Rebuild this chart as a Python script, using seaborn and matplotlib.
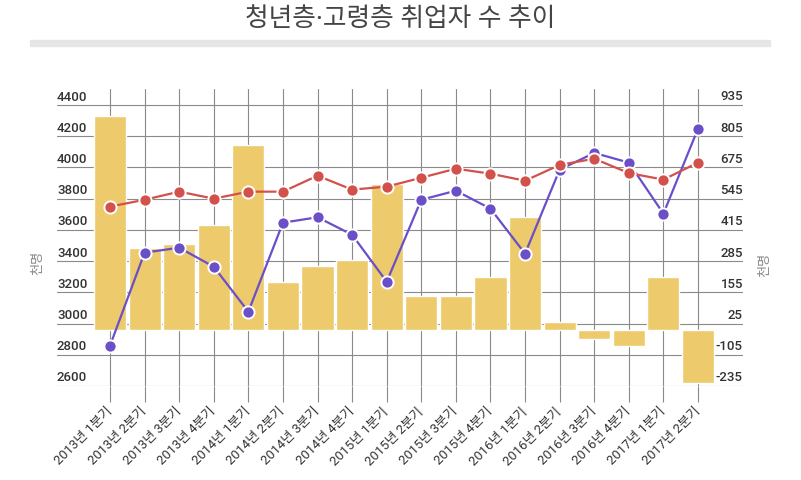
import numpy as np
import pandas as pd
import matplotlib
matplotlib.use("Agg")
import matplotlib.pyplot as plt
import matplotlib.transforms as mtransforms
from matplotlib.patches import Rectangle
import seaborn as sns

# ---------------- data ----------------
quarters = ["2013년 1분기", "2013년 2분기", "2013년 3분기", "2013년 4분기",
            "2014년 1분기", "2014년 2분기", "2014년 3분기", "2014년 4분기",
            "2015년 1분기", "2015년 2분기", "2015년 3분기", "2015년 4분기",
            "2016년 1분기", "2016년 2분기", "2016년 3분기", "2016년 4분기",
            "2017년 1분기", "2017년 2분기"]
bar_values = [890, 339, 356, 437, 770, 199, 266, 290, 605, 141, 141, 219,
              470, 31, -38, -67, 219, -221]
red_values = [3749, 3793, 3845, 3800, 3845, 3845, 3947, 3858, 3877, 3934,
              3992, 3960, 3915, 4016, 4056, 3964, 3922, 4031]
purple_values = [2858, 3454, 3486, 3364, 3076, 3646, 3681, 3569, 3268, 3793,
                 3851, 3736, 3448, 3986, 4093, 4031, 3704, 4248]
left_ticks = [2600, 2800, 3000, 3200, 3400, 3600, 3800, 4000, 4200, 4400]
right_ticks = [-235, -105, 25, 155, 285, 415, 545, 675, 805, 935]
title = "청년층·고령층 취업자 수 추이"
unit_label = "천명"

df = pd.DataFrame({"quarter": quarters, "bar": bar_values,
                   "red": red_values, "purple": purple_values})
df["pos"] = np.arange(len(df))

# ---------------- style ----------------
sns.set_theme(style="white")
KR = ["Noto Sans CJK KR", "DejaVu Sans"]
plt.rcParams["font.family"] = KR
MIX = ["Roboto", "Noto Sans CJK KR", "DejaVu Sans"]
TITLE_F = ["Noto Sans", "Noto Sans CJK KR", "DejaVu Sans"]

BAR_C = "#EDCA6B"
RED_C = "#D2514B"
PUR_C = "#6A4FC8"
GRID_C = "#8A8A8A"
TXT_C = "#333333"

W, H = 801, 481
fig = plt.figure(figsize=(W / 100, H / 100), dpi=100)

# axes placement (pixels)
ax_l, ax_r, ax_t, ax_b = 57, 743, 90, 387
ax_bar = fig.add_axes([ax_l / W, (H - ax_b) / H, (ax_r - ax_l) / W, (ax_b - ax_t) / H])
ax_line = ax_bar.twinx()

n = len(df)
spacing = (698 - 110) / (n - 1)
x0 = -(110 - ax_l) / spacing
x1 = (n - 1) + (ax_r - 698) / spacing

# right scale (bars)
r_px = (right_ticks[-1] - right_ticks[0]) / (ax_b - 106)
ax_bar.set_ylim(right_ticks[0], right_ticks[-1] + (106 - ax_t) * r_px)
# left scale (lines)
l_px = (left_ticks[-1] - left_ticks[0]) / (ax_b - 106)
ax_line.set_ylim(left_ticks[0], left_ticks[-1] + (106 - ax_t) * l_px)

# grid (under bars)
ax_bar.set_axisbelow(True)
for v in right_ticks:
    ax_bar.axhline(v, color=GRID_C, lw=0.8, zorder=0)
for p in df["pos"]:
    ax_bar.axvline(p, color=GRID_C, lw=0.8, zorder=0)

sns.barplot(data=df, x="pos", y="bar", ax=ax_bar, color=BAR_C, width=0.93,
            edgecolor="white", linewidth=1.0, saturation=1, zorder=2)
ax_bar.set_xlim(x0, x1)

# lines (purple first so red sits on top)
sns.lineplot(data=df, x="pos", y="purple", ax=ax_line, color=PUR_C, lw=1.6,
             marker="o", markersize=8.8, markeredgecolor="white",
             markeredgewidth=1.4, zorder=3)
sns.lineplot(data=df, x="pos", y="red", ax=ax_line, color=RED_C, lw=1.6,
             marker="o", markersize=8.8, markeredgecolor="white",
             markeredgewidth=1.4, zorder=3)
ax_line.set_xlim(x0, x1)

for a in (ax_bar, ax_line):
    for s in a.spines.values():
        s.set_visible(False)
    a.set_xlabel("")
    a.set_ylabel("")
    a.set_yticks([])
ax_line.set_xticks([])

# x ticks and labels
ax_bar.set_xticks(df["pos"])
ax_bar.set_xticklabels(df["quarter"], rotation=45, ha="right", va="center",
                       rotation_mode="anchor", fontsize=9.4, color=TXT_C,
                       family=MIX)
ax_bar.tick_params(axis="x", length=11.8, width=0.8, color=GRID_C, pad=4.5,
                   bottom=True)

# y tick labels (sitting above grid lines)
off = mtransforms.ScaledTranslation(0, 1.8 / 72, fig.dpi_scale_trans)
tl = mtransforms.blended_transform_factory(ax_line.transAxes, ax_line.transData) + off
tr = mtransforms.blended_transform_factory(ax_bar.transAxes, ax_bar.transData) + off
for v in left_ticks:
    ax_line.text(0, v, f"{v}", transform=tl, ha="left", va="bottom",
                 fontsize=9.5, color=TXT_C, family=["Roboto", "DejaVu Sans"],
                 fontweight="medium")
for v in right_ticks:
    ax_bar.text(1, v, f"{v}", transform=tr, ha="right", va="bottom",
                fontsize=9.5, color=TXT_C, family=["Roboto", "DejaVu Sans"],
                fontweight="medium")

# unit labels
ax_line.text((38 - ax_l) / (ax_r - ax_l), (ax_b - 263) / (ax_b - ax_t), unit_label,
             transform=ax_line.transAxes, rotation=90, ha="center", va="center",
             fontsize=9.5, color="#888888", family=KR)
ax_line.text((765 - ax_l) / (ax_r - ax_l), (ax_b - 265) / (ax_b - ax_t), unit_label,
             transform=ax_line.transAxes, rotation=90, ha="center", va="center",
             fontsize=9.5, color="#888888", family=KR)

# title + gray rule
fig.text(400 / W, 1 - 19 / H, title, ha="center", va="center", fontsize=18.5,
         color="#444444", family=TITLE_F)
fig.patches.append(Rectangle((30 / W, 1 - 47 / H), 740 / W, 6 / H,
                             transform=fig.transFigure, color="#E6E6E6",
                             zorder=0))

fig.savefig("out.png", dpi=100)
